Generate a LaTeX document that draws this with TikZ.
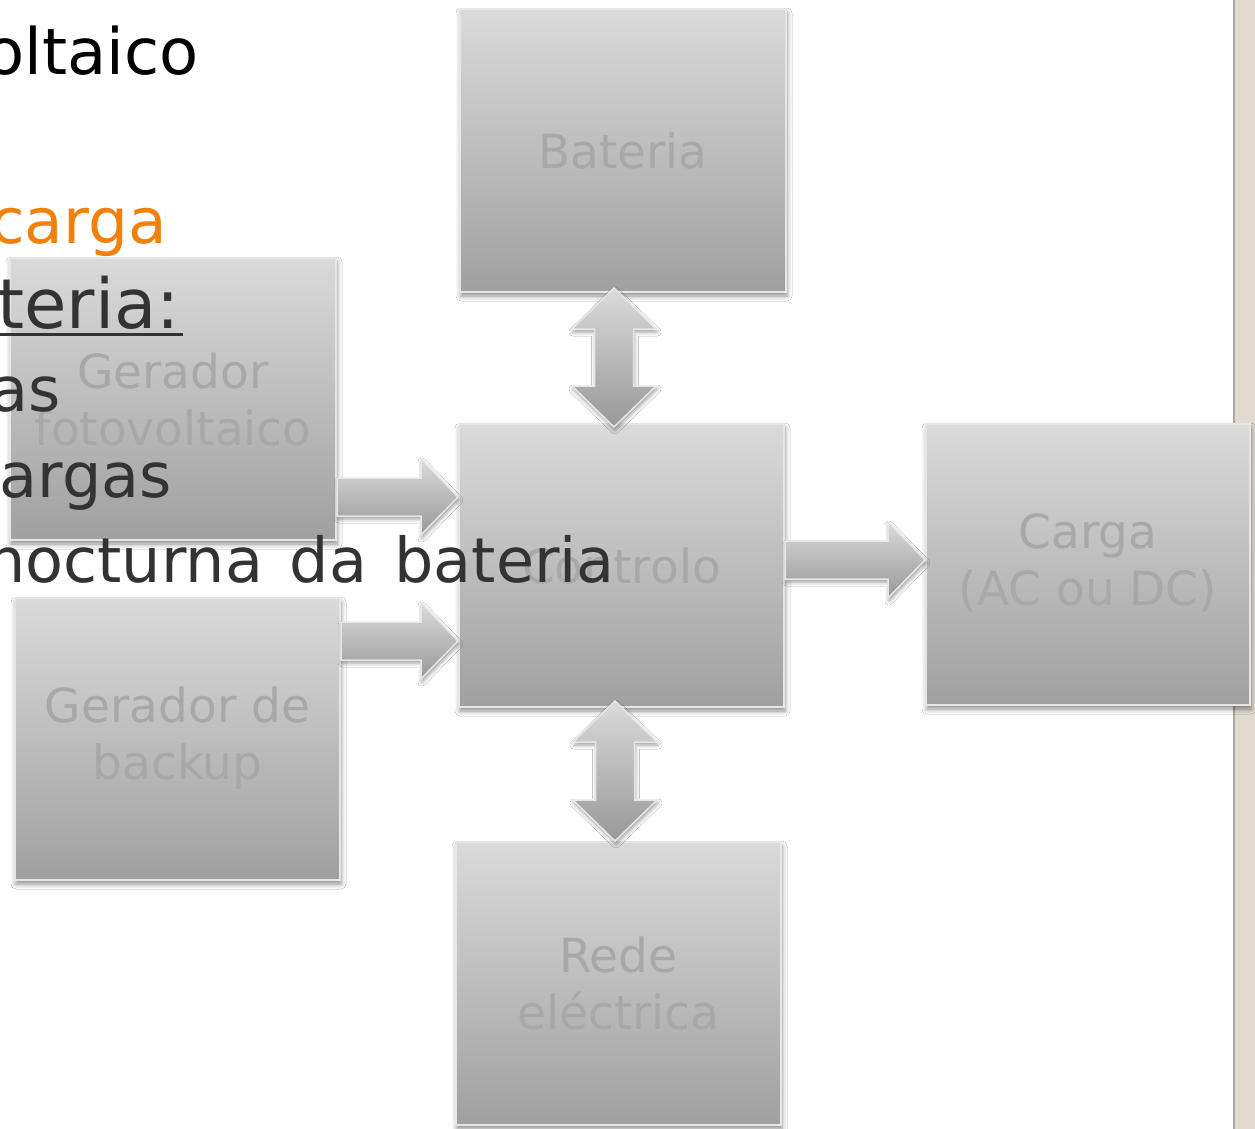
\documentclass[tikz,border=0pt]{standalone}
\usepackage{fontspec}
\setmainfont{DejaVu Sans}
\usetikzlibrary{calc,shadows.blur}
\definecolor{boxtop}{RGB}{218,218,218}
\definecolor{boxbot}{RGB}{160,160,160}
\definecolor{boxline}{RGB}{230,230,230}
\definecolor{boxtext}{RGB}{168,168,168}
\definecolor{bodytext}{RGB}{51,51,51}
\definecolor{accent}{RGB}{240,130,12}
\definecolor{strip}{RGB}{225,219,207}
\definecolor{stripedge}{RGB}{172,168,160}
\tikzset{
  blockbox/.style={rectangle, minimum width=325pt, minimum height=283pt, inner sep=0pt,
    top color=boxtop, bottom color=boxbot, draw=boxline, line width=2pt,
    text=boxtext, font=\fontsize{47}{57}\selectfont, align=center,
    blur shadow={shadow xshift=1pt, shadow yshift=-4pt, shadow blur radius=5pt, shadow opacity=45}},
  blockarrow/.style={top color=boxtop, bottom color=boxbot!95!black, draw=boxline, line width=1.5pt,
    blur shadow={shadow xshift=1pt, shadow yshift=-3pt, shadow blur radius=4pt, shadow opacity=40}},
  slidetext/.style={anchor=base east, inner sep=0pt, text=bodytext, font=\fontsize{62}{74}\selectfont},
}
\newcommand\hblockarrow[2]{\path[blockarrow] let \p1=#1, \p2=#2 in
  (\x1,\y1+19pt) -- (\x2-37pt,\y1+19pt) -- (\x2-37pt,\y1+38pt) -- (\x2,\y1)
  -- (\x2-37pt,\y1-38pt) -- (\x2-37pt,\y1-19pt) -- (\x1,\y1-19pt) -- cycle;}
\newcommand\vblockarrow[2]{\path[blockarrow] let \p1=#1, \p2=#2 in
  (\x1,\y1) -- (\x1+42pt,\y1-41pt) -- (\x1+19.5pt,\y1-41pt) -- (\x1+19.5pt,\y2+41pt)
  -- (\x1+42pt,\y2+41pt) -- (\x1,\y2) -- (\x1-42pt,\y2+41pt) -- (\x1-19.5pt,\y2+41pt)
  -- (\x1-19.5pt,\y1-41pt) -- (\x1-42pt,\y1-41pt) -- cycle;}
\begin{document}
\begin{tikzpicture}[x=1pt,y=-1pt]
\fill[white] (0,0) rectangle (1255,1129);
\useasboundingbox (0,0) rectangle (1255,1129);
% right strip
\fill[strip] (1233,0) rectangle (1255,1129);
\draw[stripedge, line width=2pt] (1234,0) -- (1234,1129);
% boxes
\node[blockbox, minimum width=326pt] (bat) at (623,150.5) {Bateria};
\node[blockbox, minimum width=326pt, minimum height=282pt] (pv) at (173,399) {Gerador\\fotovoltaico};
\node[blockbox] (ctl) at (621.5,565.5) {Controlo};
\node[blockbox, minimum width=324pt, minimum height=281pt, text depth=10pt] (load) at (1088,564.5) {Carga\\(AC ou DC)};
\node[blockbox, minimum height=282pt, text depth=12pt] (bak) at (177.5,739) {Gerador de\\backup};
\node[blockbox] (grid) at (618.5,983.5) {Rede\\eléctrica};
% arrow reference lines
\coordinate (a1) at (0,497);
\coordinate (a2) at (0,641);
\coordinate (a3) at (0,560);
\coordinate (v1) at (614,0);
\coordinate (v2) at (615,0);
% block arrows
\hblockarrow{(pv.east |- a1)}{(ctl.west |- a1)}
\hblockarrow{(bak.east |- a2)}{(ctl.west |- a2)}
\hblockarrow{(ctl.east |- a3)}{(load.west |- a3)}
\vblockarrow{($(v1 |- bat.south)+(0,-5)$)}{($(v1 |- ctl.north)+(0,4)$)}
\vblockarrow{($(v2 |- ctl.south)+(0,-7)$)}{(v2 |- grid.north)}
% slide text (clipped at the left edge)
\node[slidetext, text=black, font=\fontsize{64}{76}\selectfont] (t1) at (199,75) {oltaico};
\node[slidetext, text=accent, font=\fontsize{63}{75}\selectfont] (t2) at (167,243) {carga};
\node[slidetext, font=\fontsize{69}{80}\selectfont] (t3) at (180,328) {ateria:};
\draw[bodytext, line width=3pt] ($(t3.base west)+(0,6)$) -- ($(t3.base east)+(3,6)$);
\node[slidetext] (t4) at (61,411) {as};
\node[slidetext] (t5) at (172,497) {argas};
\node[slidetext] (t6) at (615,582) {{\spaceskip=27pt\relax nocturna da bateria}};
\end{tikzpicture}
\end{document}
